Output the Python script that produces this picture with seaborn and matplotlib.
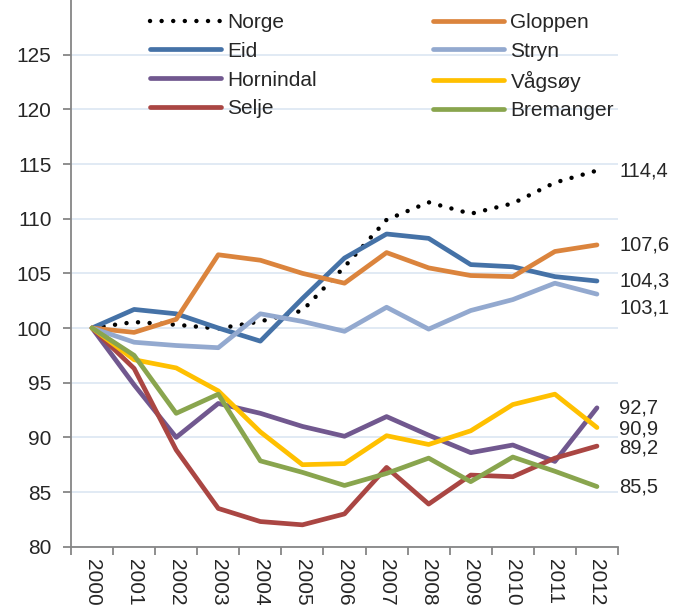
import numpy as np
import matplotlib
matplotlib.use('Agg')
import matplotlib.pyplot as plt
import seaborn as sns

years = ['2000', '2001', '2002', '2003', '2004', '2005', '2006',
         '2007', '2008', '2009', '2010', '2011', '2012']

norge = [100, 100.55, 100.3, 99.95, 100.6, 101.6, 105.6, 109.9, 111.5, 110.45, 111.4, 113.3, 114.4]
eid = [100, 101.7, 101.3, 100.0, 98.8, 102.7, 106.4, 108.6, 108.2, 105.8, 105.6, 104.7, 104.3]
gloppen = [100, 99.6, 100.8, 106.7, 106.2, 105.0, 104.1, 106.9, 105.5, 104.8, 104.7, 107.0, 107.6]
stryn = [100, 98.7, 98.4, 98.2, 101.3, 100.6, 99.7, 101.9, 99.9, 101.6, 102.6, 104.1, 103.1]
hornindal = [100, 94.8, 90.0, 93.1, 92.2, 91.0, 90.1, 91.9, 90.2, 88.6, 89.3, 87.8, 92.7]
vagsoy = [100, 97.1, 96.35, 94.25, 90.5, 87.5, 87.6, 90.15, 89.35, 90.6, 93.0, 93.95, 90.9]
selje = [100, 96.3, 88.85, 83.5, 82.3, 82.0, 83.0, 87.25, 83.9, 86.55, 86.4, 88.1, 89.2]
bremanger = [100, 97.5, 92.2, 93.95, 87.85, 86.8, 85.6, 86.7, 88.1, 85.95, 88.2, 86.9, 85.5]

end_labels = ['114,4', '104,3', '92,7', '89,2', '107,6', '103,1', '90,9', '85,5']

# legend order: column 1 then column 2
series = [
    ('Norge', norge, 'black'),
    ('Eid', eid, '#4572A7'),
    ('Hornindal', hornindal, '#71588F'),
    ('Selje', selje, '#AA4643'),
    ('Gloppen', gloppen, '#DB843D'),
    ('Stryn', stryn, '#93A9CF'),
    ('Vågsøy', vagsoy, '#FFC000'),
    ('Bremanger', bremanger, '#89A54E'),
]
# vertical nudges for end labels (data units) to avoid overlap
label_shift = {'Stryn': -1.3, 'Vågsøy': -0.1, 'Selje': -0.15}

sns.set_style('white')
plt.rcParams['font.family'] = ['Liberation Sans', 'DejaVu Sans']

fig = plt.figure(figsize=(6.86, 6.07), dpi=100)
ax = fig.add_axes([71 / 686, 1 - 546.7 / 607, 547 / 686, 546.7 / 607])

x = np.arange(len(years))
for (name, vals, col), lab in zip(series, end_labels):
    if name == 'Norge':
        sns.lineplot(x=x, y=vals, ax=ax, color=col, lw=3.2, label=name,
                     linestyle=(0, (0.01, 2.6)), dash_capstyle='round')
    else:
        sns.lineplot(x=x, y=vals, ax=ax, color=col, lw=3.4, label=name,
                     solid_capstyle='round')
    ax.annotate(lab, (x[-1], vals[-1] + label_shift.get(name, 0)),
                xytext=(16, 0), textcoords='offset points', va='center',
                ha='left', fontsize=14.5, annotation_clip=False)

ax.set_xlim(-0.5, 12.5)
ax.set_ylim(80, 130)
ax.set_yticks(np.arange(80, 126, 5))
ax.set_xticks(np.arange(-0.5, 13, 1))
ax.set_xticklabels([])
ax.set_xticks(x, minor=True)
ax.set_xticklabels(years, minor=True, rotation=270, ha='center', va='top')

ax.grid(axis='y', color='#DCE6F2', lw=1.2)
ax.set_axisbelow(True)
for s in ['top', 'right']:
    ax.spines[s].set_visible(False)
for s in ['left', 'bottom']:
    ax.spines[s].set_color('#868686')
    ax.spines[s].set_linewidth(1.3)

ax.tick_params(axis='both', which='major', direction='out', length=6, width=1.3,
               color='#868686', labelsize=15, left=True, bottom=True)
ax.tick_params(axis='y', pad=8)
ax.tick_params(axis='x', which='minor', length=0, pad=9, labelsize=15)

ax.legend(ncol=2, loc='upper left', bbox_to_anchor=(150 / 686, 1 - 13 / 607),
          bbox_transform=fig.transFigure, frameon=False, fontsize=15,
          handlelength=3.4, handletextpad=0.3, labelspacing=0.47,
          columnspacing=5.6, borderpad=0, borderaxespad=0)

fig.savefig('out.png', dpi=100)
